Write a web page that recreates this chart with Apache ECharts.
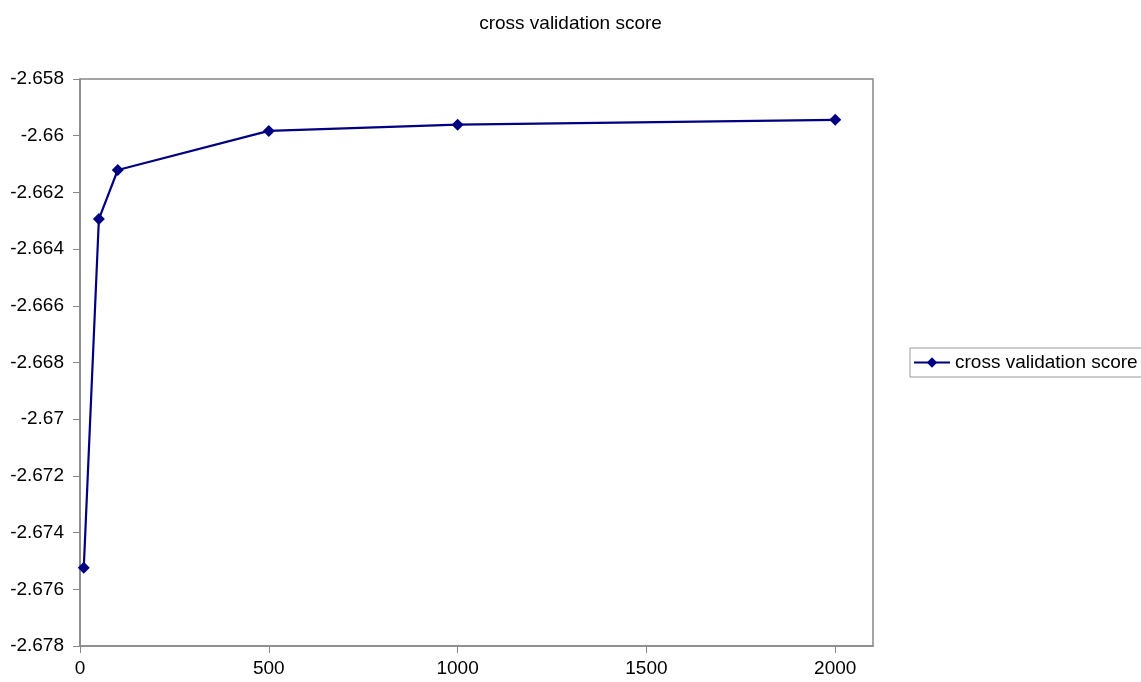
<!DOCTYPE html>
<html>
<head>
<meta charset="utf-8">
<script src="https://cdn.jsdelivr.net/npm/echarts@6/dist/echarts.min.js"></script>
<style>html,body{margin:0;padding:0;background:#fff}#c{width:1141px;height:682px}</style>
</head>
<body>
<div id="c"></div>
<script>
const seriesName = 'cross validation score';
const xValues = [10, 50, 100, 500, 1000, 2000];
const yValues = [-2.67524, -2.66294, -2.66121, -2.65983, -2.65961, -2.65944];
const yTicks = [-2.678, -2.658, 0.002];
const xTicks = [0, 2100, 500];
const xTickLabels = [0, 500, 1000, 1500, 2000];

const chart = echarts.init(document.getElementById('c'), null, {renderer: 'canvas'});
const font = 'Liberation Sans, Arial, sans-serif';
chart.setOption({
  animation: false,
  backgroundColor: '#fff',
  title: {
    text: seriesName, left: 'center', top: 9,
    textStyle: {fontFamily: font, fontSize: 19, fontWeight: 'normal', color: '#000'}
  },
  grid: {left: 80, top: 79, right: 268, bottom: 36, show: true, borderColor: '#888', borderWidth: 1.5, containLabel: false},
  legend: {
    left: 910, top: 348, orient: 'vertical',
    borderColor: '#999', borderWidth: 1, padding: [5, 8, 5, 3],
    itemWidth: 36, itemHeight: 13, itemGap: 5,
    lineStyle: {width: 2},
    textStyle: {fontFamily: font, fontSize: 19, color: '#000'},
    data: [seriesName]
  },
  xAxis: {
    type: 'value', min: xTicks[0], max: xTicks[1], interval: xTicks[2],
    axisLine: {show: true, lineStyle: {color: '#888', width: 1.5}},
    axisTick: {show: true, length: 7, lineStyle: {color: '#888'}, customValues: xTickLabels},
    splitLine: {show: false},
    axisLabel: {fontFamily: font, fontSize: 19, color: '#000', margin: 13, customValues: xTickLabels,
      formatter: v => String(v)}
  },
  yAxis: {
    type: 'value', min: yTicks[0], max: yTicks[1], interval: yTicks[2],
    axisLine: {show: true, lineStyle: {color: '#888', width: 1.5}},
    axisTick: {show: true, length: 7, lineStyle: {color: '#888'}},
    splitLine: {show: false},
    axisLabel: {fontFamily: font, fontSize: 19, color: '#000', margin: 16,
      formatter: v => String(+(+v).toFixed(3))}
  },
  series: [{
    name: seriesName, type: 'line',
    data: xValues.map((x, i) => [x, yValues[i]]),
    symbol: 'diamond', symbolSize: 12, showSymbol: true,
    lineStyle: {color: '#000080', width: 2.2},
    itemStyle: {color: '#000080'}
  }]
});
</script>
</body>
</html>
